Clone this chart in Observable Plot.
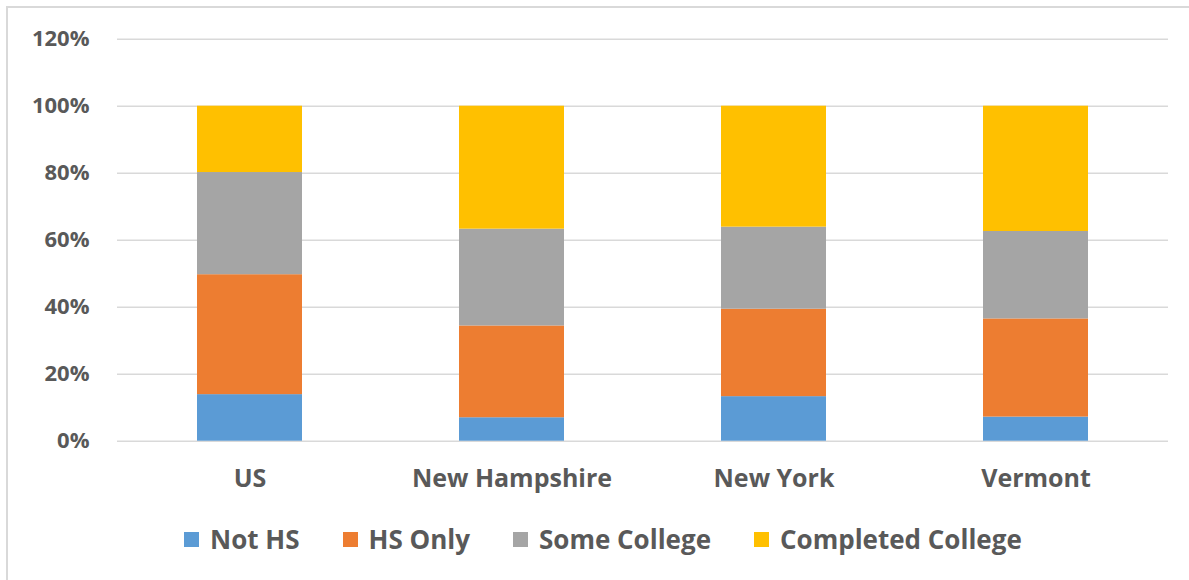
<!DOCTYPE html>
<html>
<head>
<meta charset="utf-8">
<script src="https://cdn.jsdelivr.net/npm/d3@7"></script>
<script src="https://cdn.jsdelivr.net/npm/@observablehq/plot@0.6"></script>
<style>
  html, body { margin: 0; padding: 0; background: #fff; overflow: hidden; width: 1189px; height: 580px; }
  #frame { position: absolute; left: 6px; top: 6px; width: 1250px; height: 650px; border: 2px solid #d9d9d9; box-sizing: border-box; }
  #chart { position: absolute; left: 0; top: 0; }
  #legend { position: absolute; left: 184px; top: 521px; display: flex; align-items: center;
    font-family: "Open Sans", sans-serif; font-weight: bold; font-size: 26px; color: #595959; }
  .item { display: flex; align-items: center; margin-right: 43px; }
  .sw { width: 15px; height: 15px; margin-right: 11px; }
</style>
</head>
<body>
<div id="frame"></div>
<div id="chart"></div>
<div id="legend"></div>
<script>
const states = ["US", "New Hampshire", "New York", "Vermont"];
const levels = ["Not HS", "HS Only", "Some College", "Completed College"];
const colors = ["#5b9bd5", "#ed7d31", "#a5a5a5", "#ffc000"];
const notHS = [0.139, 0.070, 0.133, 0.072];
const hsOnly = [0.358, 0.274, 0.261, 0.293];
const someCollege = [0.305, 0.289, 0.245, 0.261];
const completed = [0.198, 0.367, 0.361, 0.374];
const yTicks = [0, 0.2, 0.4, 0.6, 0.8, 1.0, 1.2];

const series = [notHS, hsOnly, someCollege, completed];
const data = [];
levels.forEach((lvl, i) => states.forEach((s, j) => data.push({state: s, level: lvl, value: series[i][j]})));

const plot = Plot.plot({
  width: 1189,
  height: 500,
  marginLeft: 117,
  marginRight: 21,
  marginTop: 38.7,
  marginBottom: 59.3,
  style: {fontFamily: "'Open Sans', sans-serif", fontWeight: "bold", color: "#595959", background: "transparent"},
  x: {domain: states, paddingInner: 0.6, paddingOuter: 0.3, label: null},
  y: {domain: [0, 1.2], label: null},
  color: {domain: levels, range: colors},
  marks: [
    Plot.gridY(yTicks, {stroke: "#d9d9d9", strokeOpacity: 1, strokeWidth: 1.5}),
    Plot.barY(data, Plot.stackY({x: "state", y: "value", fill: "level", order: levels})),
    Plot.axisY({ticks: yTicks, tickFormat: d3.format(".0%"), tickSize: 0, tickPadding: 28, fontSize: 22, label: null}),
    Plot.axisX({tickSize: 0, tickPadding: 28, fontSize: 25, label: null})
  ]
});
document.getElementById("chart").appendChild(plot);

const legend = document.getElementById("legend");
levels.forEach((lvl, i) => {
  const it = document.createElement("div");
  it.className = "item";
  const sw = document.createElement("div");
  sw.className = "sw";
  sw.style.background = colors[i];
  const t = document.createElement("span");
  t.textContent = lvl;
  it.appendChild(sw); it.appendChild(t);
  legend.appendChild(it);
});
</script>
</body>
</html>
